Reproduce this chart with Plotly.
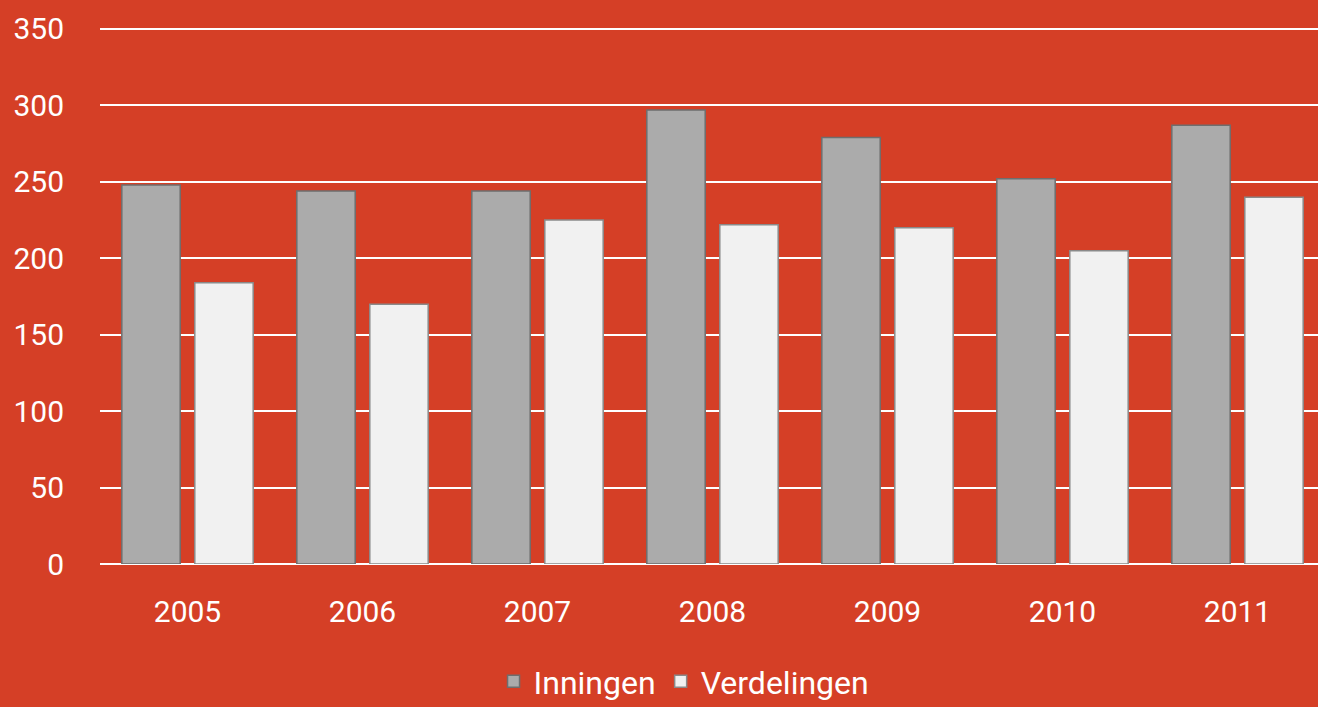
import plotly.graph_objects as go

years = ["2005", "2006", "2007", "2008", "2009", "2010", "2011"]
inningen = [248, 244, 244, 297, 279, 252, 287]
verdelingen = [184, 170, 225, 222, 220, 205, 240]
y_ticks = [0, 50, 100, 150, 200, 250, 300, 350]

BG = "#D53F26"
FONT = "Roboto, Arial, sans-serif"

fig = go.Figure()
fig.add_trace(go.Bar(
    x=years, y=inningen, name="Inningen",
    marker=dict(color="#ABABAB", line=dict(color="#6E6E6E", width=1.5)),
))
fig.add_trace(go.Bar(
    x=years, y=verdelingen, name="Verdelingen",
    marker=dict(color="#F1F1F1", line=dict(color="#8A8A8A", width=1.5)),
))

fig.update_layout(
    width=1318, height=707,
    paper_bgcolor=BG, plot_bgcolor=BG,
    margin=dict(l=100, r=0, t=27, b=143),
    barmode="group", bargap=0.166, bargroupgap=0.2,
    font=dict(family=FONT, color="white", size=30),
    showlegend=True,
    legend=dict(
        orientation="h", xref="container", yref="container",
        x=0.519, xanchor="center", y=0.036, yanchor="middle",
        font=dict(size=32, color="white"), bgcolor="rgba(0,0,0,0)",
        traceorder="normal",
    ),
    xaxis=dict(
        range=[-0.5, 6.46], showgrid=False, showline=False, zeroline=False,
        tickfont=dict(size=30, color="white"), ticks="", ticklabelstandoff=27,
    ),
    yaxis=dict(
        range=[0, 351.3], tickvals=y_ticks, ticktext=[str(v) for v in y_ticks],
        showgrid=True, gridcolor="white", gridwidth=2,
        zeroline=True, zerolinecolor="white", zerolinewidth=2,
        showline=False, ticks="", tickfont=dict(size=30, color="white"),
        ticklabelstandoff=35,
    ),
)

fig.write_html(
    "out.html",
    config={"displayModeBar": False},
    post_script="document.body.style.margin='0';document.body.style.padding='0';"
                "document.body.style.overflow='hidden';"
                "document.body.style.background='" + BG + "';",
)
